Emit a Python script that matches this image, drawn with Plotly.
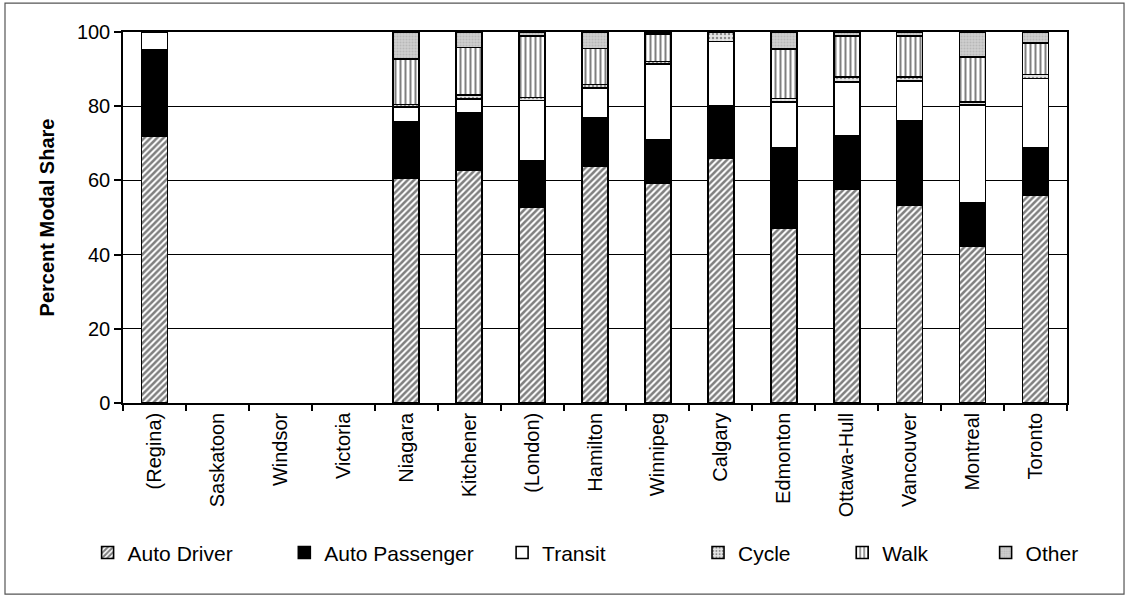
import plotly.graph_objects as go

# Metropolitan areas along the x axis
cities = ["(Regina)", "Saskatoon", "Windsor", "Victoria", "Niagara", "Kitchener",
          "(London)", "Hamilton", "Winnipeg", "Calgary", "Edmonton", "Ottawa-Hull",
          "Vancouver", "Montreal", "Toronto"]

# Percent modal share by mode (None = no data)
auto_driver = [71.8, None, None, None, 60.5, 62.8, 52.7, 63.7, 59.2, 66.0, 47.1, 57.6, 53.4, 42.2, 56.1]
auto_passenger = [23.3, None, None, None, 15.3, 15.4, 12.6, 13.3, 11.7, 14.1, 21.6, 14.4, 22.6, 11.7, 12.6]
transit = [4.9, None, None, None, 4.0, 3.8, 16.2, 7.9, 20.4, 17.3, 12.5, 14.6, 10.8, 26.4, 18.8]
cycle = [None, None, None, None, 0.7, 1.0, 0.8, 1.0, 0.7, 2.6, 0.9, 1.2, 1.0, 0.8, 1.0]
walk = [None, None, None, None, 12.3, 12.8, 16.7, 9.6, 7.4, None, 13.3, 11.2, 11.2, 12.2, 8.6]
other = [None, None, None, None, 7.2, 4.2, 1.0, 4.5, 0.6, None, 4.6, 1.0, 1.0, 6.7, 2.9]

y_ticks = [0, 20, 40, 60, 80, 100]

FONT = "Liberation Sans, Arial, sans-serif"
NB = "\u00a0"

series = [
    ("Auto Driver", auto_driver, dict(color="white", pattern=dict(shape="/", fgcolor="black", bgcolor="white", size=4.5, solidity=0.55))),
    ("Auto Passenger", auto_passenger, dict(color="black")),
    ("Transit", transit, dict(color="white")),
    ("Cycle", cycle, dict(color="#e6e6e6", pattern=dict(shape=".", fgcolor="#333333", bgcolor="#e6e6e6", size=4, solidity=0.3))),
    ("Walk", walk, dict(color="white", pattern=dict(shape="|", fgcolor="black", bgcolor="white", size=5, solidity=0.4))),
    ("Other", other, dict(color="#c4c4c4", pattern=dict(shape=".", fgcolor="#a0a0a0", bgcolor="#d0d0d0", size=3, solidity=0.4))),
]

# non-breaking padding so legend entries spread like the original key
pads = {"Auto Driver": 8, "Auto Passenger": 4, "Transit": 15, "Cycle": 8, "Walk": 9, "Other": 0}

fig = go.Figure()
for name, vals, marker in series:
    marker = dict(marker)
    marker["line"] = dict(color="black", width=1.6)
    fig.add_trace(go.Bar(
        x=cities, y=vals, name=name + NB * pads[name], marker=marker,
    ))

fig.update_layout(
    width=1128, height=597,
    barmode="stack",
    bargap=0.587,
    paper_bgcolor="white",
    plot_bgcolor="white",
    font=dict(family=FONT, size=20, color="black"),
    margin=dict(l=123, r=61, t=32, b=194),
    showlegend=True,
    legend=dict(
        orientation="h", x=-0.0375, xanchor="left", y=-0.404, yanchor="middle",
        font=dict(size=21, family=FONT), traceorder="normal",
        itemwidth=30, itemclick=False,
    ),
    xaxis=dict(
        type="category", categoryorder="array", categoryarray=cities,
        showline=True, linecolor="black", linewidth=1.5, mirror=True,
        ticks="outside", tickson="boundaries", ticklen=6, tickcolor="black", tickwidth=1.5,
        tickangle=-90, tickfont=dict(size=20), showgrid=False,
    ),
    yaxis=dict(
        range=[0, 100], tickvals=y_ticks, showline=True, linecolor="black", linewidth=1.5,
        mirror=True, ticks="outside", ticklen=7, tickcolor="black", tickwidth=1.5,
        showgrid=True, gridcolor="black", gridwidth=1.2, zeroline=False,
        tickfont=dict(size=20),
        title=dict(text="<b>Percent Modal Share</b>", font=dict(size=20), standoff=17),
    ),
    shapes=[dict(
        type="rect", xref="paper", yref="paper",
        x0=-0.125, x1=1.0604, y0=-0.515, y1=1.078,
        line=dict(color="#555555", width=1.2), fillcolor="rgba(0,0,0,0)", layer="below",
    )],
)

fig.write_html("out.html")
